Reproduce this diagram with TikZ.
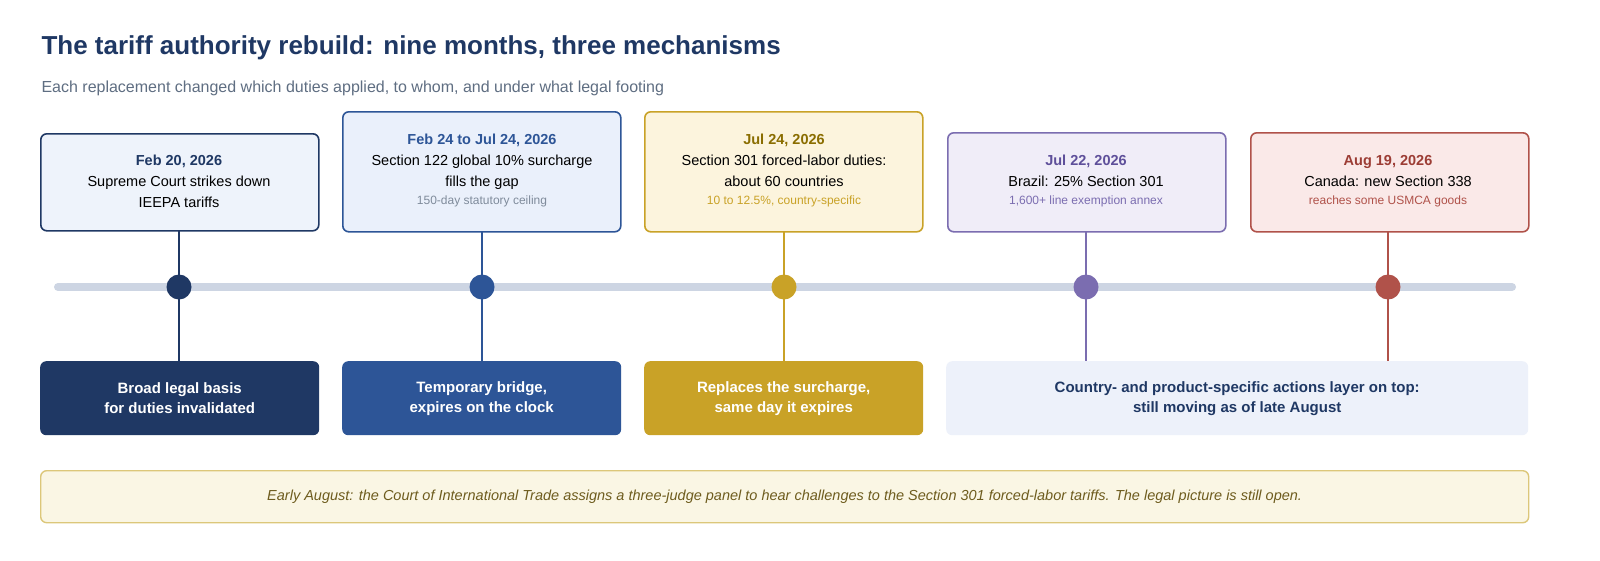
\documentclass[tikz,border=0pt]{standalone}
\usepackage{fontspec}
\setmainfont{Liberation Sans}
\definecolor{cnavy}{HTML}{1F3864}
\definecolor{cblu}{HTML}{2D5597}
\definecolor{cgold}{HTML}{C9A227}
\definecolor{cpurp}{HTML}{7B6DB0}
\definecolor{cred}{HTML}{B0524A}
\definecolor{cgry}{HTML}{5F6E82}
\definecolor{cline}{HTML}{CDD5E3}
\definecolor{f1}{HTML}{EEF3FB}
\definecolor{f2}{HTML}{EAF0FB}
\definecolor{f3}{HTML}{FCF4DD}
\definecolor{f4}{HTML}{F0EDF8}
\definecolor{f5}{HTML}{FAE9E8}
\definecolor{f6}{HTML}{EDF1FA}
\definecolor{nfill}{HTML}{FAF6E4}
\definecolor{ndraw}{HTML}{DCC77A}
\definecolor{ntext}{HTML}{6E5C1E}
\definecolor{d3}{HTML}{8A6D00}
\definecolor{d4}{HTML}{5E4F9A}
\definecolor{d5}{HTML}{9C3D35}
\begin{document}
\begin{tikzpicture}[x=1pt,y=-1pt,
 box/.style={draw,line width=1.6pt,rounded corners=6pt,minimum width=278pt,anchor=north west,align=center,inner sep=0pt},
 stem/.style={line width=2pt},
 dot/.style={circle,minimum size=25pt,inner sep=0pt},
 txt/.style={align=center,font=\fontsize{14.5}{21}\selectfont},
 low/.style={rounded corners=6pt,minimum width=279pt,minimum height=74pt,anchor=north west,align=center,font=\bfseries\fontsize{15}{20}\selectfont,text=white}]
\useasboundingbox (0,0) rectangle (1600,560);
\fill[white] (0,0) rectangle (1600,560);
\node[anchor=west,font=\bfseries\fontsize{26}{30}\selectfont,text=cnavy] (title) at (38,48) {The tariff authority rebuild: nine months, three mechanisms};
\node[anchor=west,font=\fontsize{16}{20}\selectfont,text=cgry] (sub) at (38,88) {Each replacement changed which duties applied, to whom, and under what legal footing};
\draw[line width=8pt,line cap=round,color=cline] (58,287) coordinate (l0) -- (1512,287) coordinate (l1);
% top boxes
\node[box,draw=cnavy,fill=f1,minimum height=97pt] (t1) at (40,133) {};
\node[box,draw=cblu,fill=f2,minimum height=120pt] (t2) at (342,111) {};
\node[box,draw=cgold,fill=f3,minimum height=120pt] (t3) at (644,111) {};
\node[box,draw=cpurp,fill=f4,minimum height=99pt] (t4) at (947,132) {};
\node[box,draw=cred,fill=f5,minimum height=99pt] (t5) at (1250,132) {};
\node[txt] (x1) at (179,181) {\textcolor{cnavy}{\bfseries Feb 20, 2026}\\Supreme Court strikes down\\IEEPA tariffs};
\node[txt] (x2) at (482,170) {\textcolor{cblu}{\bfseries Feb 24 to Jul 24, 2026}\\Section 122 global 10\% surcharge\\fills the gap\\[-3pt]{\fontsize{12}{16}\selectfont\textcolor{cgry!80}{150-day statutory ceiling}}};
\node[txt] (x3) at (784,170) {\textcolor{d3}{\bfseries Jul 24, 2026}\\Section 301 forced-labor duties:\\about 60 countries\\[-3pt]{\fontsize{12}{16}\selectfont\textcolor{cgold}{10 to 12.5\%, country-specific}}};
\node[txt] (x4) at (1086,181) {\textcolor{d4}{\bfseries Jul 22, 2026}\\Brazil: 25\% Section 301\\[-3pt]{\fontsize{12}{16}\selectfont\textcolor{cpurp}{1,600+ line exemption annex}}};
\node[txt] (x5) at (1388,181) {\textcolor{d5}{\bfseries Aug 19, 2026}\\Canada: new Section 338\\[-3pt]{\fontsize{12}{16}\selectfont\textcolor{cred}{reaches some USMCA goods}}};
% bottom boxes
\node[low,fill=cnavy] (b1) at (40,361) {Broad legal basis\\for duties invalidated};
\node[low,fill=cblu] (b2) at (342,361) {Temporary bridge,\\expires on the clock};
\node[low,fill=cgold] (b3) at (644,361) {Replaces the surcharge,\\same day it expires};
\node[low,fill=f6,text=cnavy,minimum width=582pt] (b4) at (946,361) {Country- and product-specific actions layer on top:\\still moving as of late August};
% stems
\draw[stem,cnavy] (179,230) coordinate (s1) -- (179,361) coordinate (e1);
\draw[stem,cblu] (482,231) coordinate (s2) -- (482,361) coordinate (e2);
\draw[stem,cgold] (784,231) coordinate (s3) -- (784,361) coordinate (e3);
\draw[stem,cpurp] (1086,231) coordinate (s4) -- (1086,361) coordinate (e4);
\draw[stem,cred] (1388,231) coordinate (s5) -- (1388,361) coordinate (e5);
\node[dot,fill=cnavy] (d1) at (179,287) {};
\node[dot,fill=cblu] (d2) at (482,287) {};
\node[dot,fill=cgold] (dd3) at (784,287) {};
\node[dot,fill=cpurp] (dd4) at (1086,287) {};
\node[dot,fill=cred] (dd5) at (1388,287) {};
% note
\node[draw=ndraw,line width=1.4pt,fill=nfill,rounded corners=6pt,minimum width=1488pt,minimum height=52pt,anchor=north west,font=\itshape\fontsize{14.5}{18}\selectfont,text=ntext] (note) at (40,470) {Early August: the Court of International Trade assigns a three-judge panel to hear challenges to the Section 301 forced-labor tariffs. The legal picture is still open.};
\end{tikzpicture}
\end{document}
